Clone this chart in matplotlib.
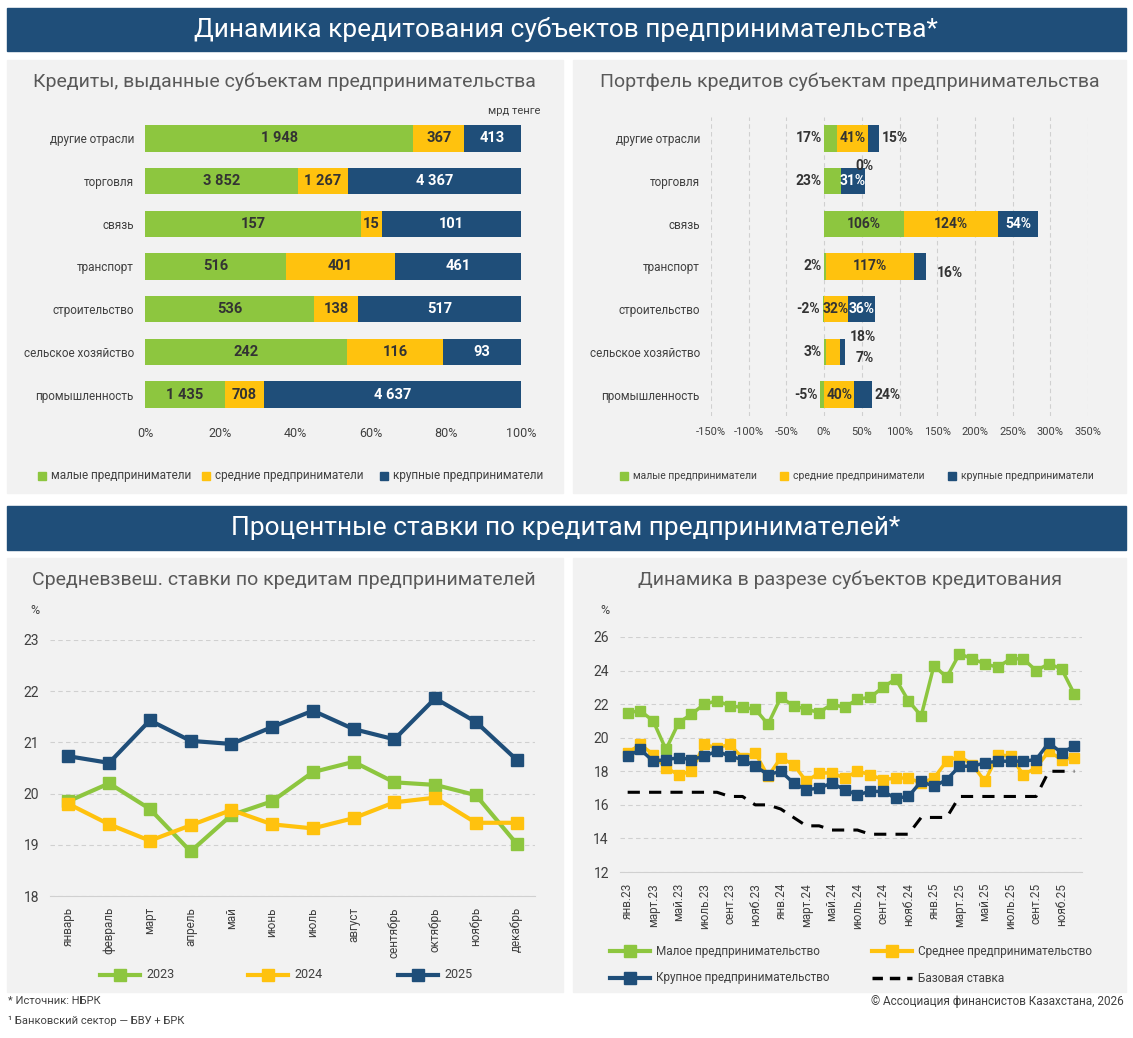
import matplotlib
matplotlib.use("Agg")
import matplotlib.pyplot as plt
import numpy as np
from matplotlib.patches import Rectangle
from matplotlib.lines import Line2D

plt.rcParams['font.family'] = ['Roboto', 'DejaVu Sans']

GREEN, YELLOW, BLUE, HEAD = '#8dc63f', '#ffc20e', '#1f4e79', '#1f4e79'
PANEL = '#f2f2f2'
TXT = '#404040'

# ---------- data ----------
sectors = ['другие отрасли', 'торговля', 'связь', 'транспорт', 'строительство',
           'сельское хозяйство', 'промышленность']
small_vol = [1948, 3852, 157, 516, 536, 242, 1435]
mid_vol = [367, 1267, 15, 401, 138, 116, 708]
big_vol = [413, 4367, 101, 461, 517, 93, 4637]

small_pct = [17, 23, 106, 2, -2, 3, -5]
mid_pct = [41, 0, 124, 117, 32, 18, 40]
big_pct = [15, 31, 54, 16, 36, 7, 24]

months = ['январь', 'февраль', 'март', 'апрель', 'май', 'июнь', 'июль', 'август',
          'сентябрь', 'октябрь', 'ноябрь', 'декабрь']
r2023 = [19.85, 20.2, 19.7, 18.87, 19.58, 19.85, 20.42, 20.62, 20.22, 20.17, 19.97, 19.02]
r2024 = [19.8, 19.4, 19.08, 19.38, 19.68, 19.4, 19.32, 19.52, 19.83, 19.92, 19.43, 19.43]
r2025 = [20.73, 20.6, 21.43, 21.03, 20.97, 21.3, 21.62, 21.26, 21.06, 21.86, 21.4, 20.66]

period_ticks = ['янв.23', 'март.23', 'май.23', 'июль.23', 'сент.23', 'нояб.23',
                'янв.24', 'март.24', 'май.24', 'июль.24', 'сент.24', 'нояб.24',
                'янв.25', 'март.25', 'май.25', 'июль.25', 'сент.25', 'нояб.25']
small_rate = [21.5, 21.6, 21.0, 19.3, 20.9, 21.4, 22.0, 22.2, 21.9, 21.8, 21.7, 20.8,
              22.4, 21.9, 21.7, 21.5, 22.0, 21.8, 22.3, 22.4, 23.0, 23.5, 22.2, 21.3,
              24.3, 23.6, 25.0, 24.7, 24.4, 24.2, 24.7, 24.7, 24.0, 24.4, 24.1, 22.6]
mid_rate = [19.1, 19.6, 19.0, 18.2, 17.8, 18.0, 19.6, 19.4, 19.6, 18.8, 19.1, 17.7,
            18.8, 18.4, 17.4, 17.9, 17.9, 17.6, 18.0, 17.8, 17.5, 17.6, 17.6, 17.3,
            17.6, 18.6, 18.9, 18.4, 17.4, 19.0, 18.9, 17.8, 18.2, 19.2, 18.7, 18.8]
big_rate = [18.9, 19.3, 18.6, 18.7, 18.8, 18.7, 18.9, 19.2, 18.9, 18.7, 18.3, 17.8,
            18.0, 17.3, 16.9, 17.0, 17.3, 16.9, 16.6, 16.8, 16.8, 16.4, 16.5, 17.4,
            17.1, 17.5, 18.3, 18.3, 18.5, 18.6, 18.6, 18.6, 18.7, 19.7, 19.1, 19.5]
base_rate = [16.75, 16.75, 16.75, 16.75, 16.75, 16.75, 16.75, 16.75, 16.5, 16.5, 16.0, 16.0,
             15.75, 15.25, 14.75, 14.75, 14.5, 14.5, 14.5, 14.25, 14.25, 14.25, 14.25, 15.25,
             15.25, 15.25, 16.5, 16.5, 16.5, 16.5, 16.5, 16.5, 16.5, 18.0, 18.0, 18.0]

W, H = 1133, 1038
fig = plt.figure(figsize=(W / 100, H / 100), dpi=100)
fig.patch.set_facecolor('white')

def box(x0, y0, x1, y1):
    return [x0 / W, 1 - y1 / H, (x1 - x0) / W, (y1 - y0) / H]

def rect(x0, y0, x1, y1, color, z=-5):
    fig.patches.append(Rectangle((x0 / W, 1 - y1 / H), (x1 - x0) / W, (y1 - y0) / H,
                                 transform=fig.transFigure, color=color, zorder=z))

def ftext(x, y, s, **kw):
    fig.text(x / W, 1 - y / H, s, **kw)

def newax(*b):
    a = fig.add_axes(box(*b))
    a.set_zorder(2)
    a.patch.set_alpha(0)
    return a

rect(7, 8, 1126, 51, HEAD)
ftext(566, 30, 'Динамика кредитования субъектов предпринимательства*', color='white',
      fontsize=19, ha='center', va='center')
rect(7, 506, 1126, 550, HEAD)
ftext(566, 528, 'Процентные ставки по кредитам предпринимателей*', color='white',
      fontsize=19, ha='center', va='center')
for p in [(7, 60, 563, 493), (573, 60, 1126, 493), (7, 558, 563, 992), (573, 558, 1126, 992)]:
    rect(*p, PANEL)
ftext(284, 82, 'Кредиты, выданные субъектам предпринимательства', color='#595959', fontsize=14, ha='center', va='center')
ftext(850, 82, 'Портфель кредитов субъектам предпринимательства', color='#595959', fontsize=14, ha='center', va='center')
ftext(284, 580, 'Средневзвеш. ставки по кредитам предпринимателей', color='#595959', fontsize=14, ha='center', va='center')
ftext(850, 580, 'Динамика в разрезе субъектов кредитования', color='#595959', fontsize=14, ha='center', va='center')
ftext(540, 111, 'мрд тенге', color=TXT, fontsize=8, ha='right', va='center')
ftext(8, 1001, '* Источник: НБРК', color=TXT, fontsize=8, va='center')
ftext(8, 1021, '¹ Банковский сектор — БВУ + БРК', color=TXT, fontsize=8, va='center')
ftext(1124, 1001, '© Ассоциация финансистов Казахстана, 2026', color=TXT, fontsize=8.5, ha='right', va='center')

def fmt(v):
    return f'{v:,}'.replace(',', '\u00a0')

# ---------- top-left ----------
ax = newax(145, 117, 521, 416)
y = np.arange(len(sectors))
tot = np.array(small_vol) + np.array(mid_vol) + np.array(big_vol)
s = np.array(small_vol) / tot; m = np.array(mid_vol) / tot; b = np.array(big_vol) / tot
ax.barh(y, s, color=GREEN, height=0.62)
ax.barh(y, m, left=s, color=YELLOW, height=0.62)
ax.barh(y, b, left=s + m, color=BLUE, height=0.62)
for i in range(len(sectors)):
    ax.text(s[i] / 2, i, fmt(small_vol[i]), ha='center', va='center', fontsize=10.5, fontweight='bold', color='#333333')
    ax.text(s[i] + m[i] / 2, i, fmt(mid_vol[i]), ha='center', va='center', fontsize=10.5, fontweight='bold', color='#333333')
    ax.text(s[i] + m[i] + b[i] / 2, i, fmt(big_vol[i]), ha='center', va='center', fontsize=10.5, fontweight='bold', color='white')
ax.set_ylim(len(sectors) - 0.5, -0.5)
ax.set_xlim(0, 1)
ax.set_yticks(y, sectors, fontsize=8.5, color=TXT)
ax.set_xticks(np.linspace(0, 1, 6), [f'{int(v)}%' for v in np.linspace(0, 100, 6)], fontsize=9, color=TXT)
ax.tick_params(length=0, pad=8)
for sp in ax.spines.values():
    sp.set_visible(False)

# ---------- top-right ----------
ax = newax(711, 117, 1088, 416)
sp_ = np.array(small_pct); mp = np.array(mid_pct); bp = np.array(big_pct)
left_m = np.maximum(sp_, 0)
ax.barh(y, sp_, color=GREEN, height=0.62, zorder=3)
ax.barh(y, mp, left=left_m, color=YELLOW, height=0.62, zorder=3)
ax.barh(y, bp, left=left_m + mp, color=BLUE, height=0.62, zorder=3)
for xv in range(-150, 351, 50):
    ax.axvline(xv, color='#d0d0d0', lw=0.8, ls=(0, (4, 3)), zorder=1)
lab = dict(fontsize=10, fontweight='bold', color='#333333', va='center', zorder=5)
for i in range(len(sectors)):
    if sp_[i] >= 40:
        ax.text(sp_[i] / 2, i, f'{sp_[i]}%', ha='center', **lab)
    else:
        ax.text(min(sp_[i], 0) - 3, i, f'{sp_[i]}%', ha='right', **lab)
    if mp[i] >= 25:
        ax.text(left_m[i] + mp[i] / 2, i, f'{mp[i]}%', ha='center', **lab)
    else:
        ax.text(left_m[i] + mp[i] + 30, i - 0.35, f'{mp[i]}%', ha='center', **lab)
    end = left_m[i] + mp[i] + bp[i]
    if bp[i] >= 25:
        ax.text(end - bp[i] / 2, i, f'{bp[i]}%', ha='center', **{**lab, 'color': 'white'})
    elif sectors[i] in ('транспорт', 'сельское хозяйство'):
        ax.text(end + 14, i + 0.15, f'{bp[i]}%', ha='left', **lab)
    else:
        ax.text(end + 3, i, f'{bp[i]}%', ha='left', **lab)
ax.set_ylim(len(sectors) - 0.5, -0.5)
ax.set_xlim(-150, 350)
ax.set_yticks(y, sectors, fontsize=8.5, color=TXT)
ax.set_xticks(range(-150, 351, 50), [f'{v}%' for v in range(-150, 351, 50)], fontsize=8, color=TXT)
ax.tick_params(length=0, pad=8)
for sp in ax.spines.values():
    sp.set_visible(False)

def legend_sq(items, y0, xs, fs):
    for (name, col), x0 in zip(items, xs):
        rect(x0, y0 - 4, x0 + 8, y0 + 4, col, z=1)
        ftext(x0 + 13, y0, name, fontsize=fs, color=TXT, va='center')

def legend_line(items, y0, xs, fs=9):
    for (name, col), x0 in zip(items, xs):
        fig.add_artist(Line2D([x0 / W, (x0 + 40) / W], [1 - y0 / H] * 2, color=col, lw=3))
        fig.add_artist(Line2D([(x0 + 20) / W], [1 - y0 / H], color=col, marker='s', markersize=8))
        ftext(x0 + 46, y0, name, fontsize=fs, color=TXT, va='center')

legend_sq([('малые предприниматели', GREEN), ('средние предприниматели', YELLOW), ('крупные предприниматели', BLUE)],
          476, [38, 202, 380], fs=8.5)
legend_sq([('малые предприниматели', GREEN), ('средние предприниматели', YELLOW), ('крупные предприниматели', BLUE)],
          476, [620, 780, 948], fs=7.5)

# ---------- bottom-left ----------
ax = newax(50, 640, 535, 896)
xm = np.arange(12)
for data, col in [(r2023, GREEN), (r2024, YELLOW), (r2025, BLUE)]:
    ax.plot(xm, data, color=col, lw=3, marker='s', markersize=8, zorder=3)
ax.set_ylim(18, 23)
ax.set_xlim(-0.45, 11.45)
ax.set_yticks(range(18, 24), [str(v) for v in range(18, 24)], fontsize=10, color=TXT)
ax.set_xticks(xm, months, rotation=90, fontsize=8.5, color=TXT)
ax.grid(axis='y', color='#d0d0d0', ls=(0, (4, 3)), lw=0.8)
ax.tick_params(length=0, pad=8)
for k, sp in ax.spines.items():
    sp.set_visible(k == 'bottom')
ax.spines['bottom'].set_color('#d0d0d0')
ftext(30, 610, '%', fontsize=9, color=TXT, va='center')
legend_line([('2023', GREEN), ('2024', YELLOW), ('2025', BLUE)], 975, [100, 248, 398])

# ---------- bottom-right ----------
ax = newax(620, 637, 1082, 872)
xp = np.arange(len(small_rate))
for data, col in [(small_rate, GREEN), (mid_rate, YELLOW), (big_rate, BLUE)]:
    ax.plot(xp, data, color=col, lw=2.5, marker='s', markersize=7, zorder=3)
ax.plot(xp, base_rate, color='black', lw=2.2, ls=(0, (4, 3)), zorder=2)
ax.set_ylim(12, 26)
ax.set_xlim(-0.6, 35.6)
ax.set_yticks(range(12, 27, 2), [str(v) for v in range(12, 27, 2)], fontsize=10, color=TXT)
ax.set_xticks(xp[::2], period_ticks, rotation=90, fontsize=8.5, color=TXT)
ax.grid(axis='y', color='#d0d0d0', ls=(0, (4, 3)), lw=0.8)
ax.tick_params(length=0, pad=8)
for k, sp in ax.spines.items():
    sp.set_visible(k == 'bottom')
ax.spines['bottom'].set_color('#d0d0d0')
ftext(600, 610, '%', fontsize=9, color=TXT, va='center')
legend_line([('Малое предпринимательство', GREEN), ('Среднее предпринимательство', YELLOW)], 951, [610, 872], fs=8.5)
legend_line([('Крупное предпринимательство', BLUE)], 978, [610], fs=8.5)
fig.add_artist(Line2D([872 / W, 912 / W], [1 - 978 / H] * 2, color='black', lw=2.5, ls=(0, (3, 2))))
ftext(918, 978, 'Базовая ставка', fontsize=8.5, color=TXT, va='center')

fig.savefig('out.png', dpi=100, facecolor='white')
